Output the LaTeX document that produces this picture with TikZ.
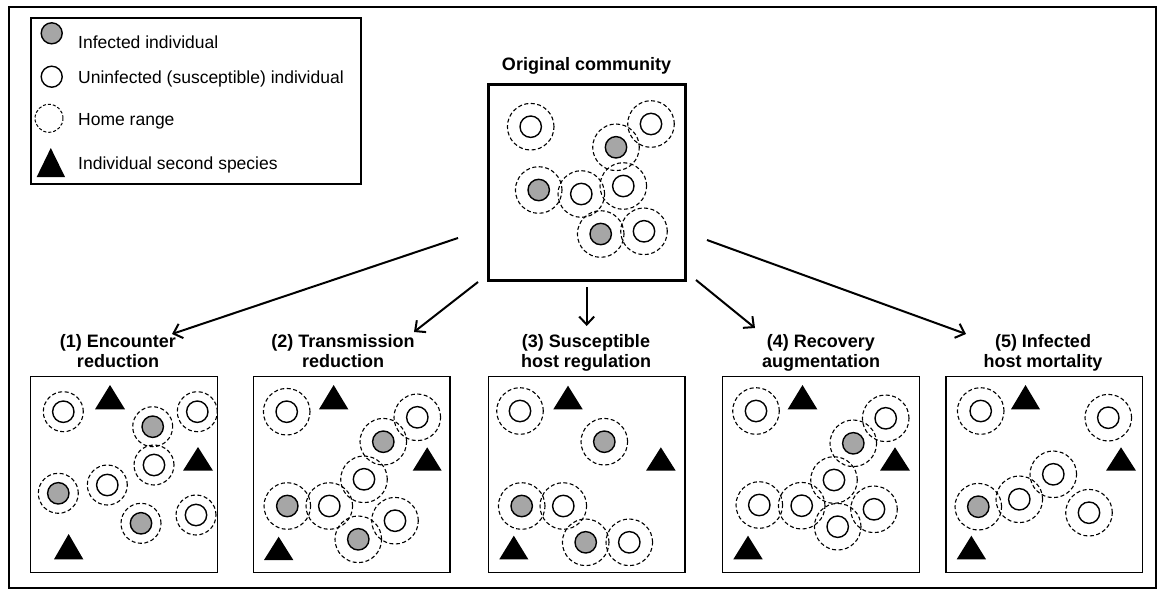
\documentclass[tikz,border=0pt]{standalone}
\usepackage{fontspec}
\setmainfont{Liberation Sans}
\usetikzlibrary{arrows.meta}
\definecolor{infgray}{RGB}{166,166,166}
\begin{document}
\begin{tikzpicture}[x=1pt,y=-1pt,
  frame/.style={draw=black,line width=2pt},
  legbox/.style={draw=black,line width=1.4pt},
  panel/.style={draw=black,line width=1.5pt},
  mainbox/.style={draw=black,line width=3pt},
  ring/.style={draw=black,line width=1.1pt,dash pattern=on 4pt off 2.5pt},
  inf/.style={draw=black,line width=1.4pt,fill=infgray},
  sus/.style={draw=black,line width=1.4pt,fill=white},
  arr/.style={line width=2pt,-{Straight Barb[length=8pt,width=15pt,line width=2pt]}},
  lab/.style={font=\fontsize{18}{20}\selectfont\bfseries,anchor=base,inner sep=0pt},
  legtxt/.style={font=\fontsize{17.5}{20}\selectfont,anchor=base west,inner sep=0pt}
]
\useasboundingbox (0,0) rectangle (1161,592);
\draw[frame] (9,7) rectangle (1156,588);

% legend
\draw[legbox] (31,18) rectangle (361,184);
\draw[inf] (51.7,33.3) circle[radius=10.5pt];
\draw[sus] (51.7,76.7) circle[radius=10.5pt];
\draw[ring,line width=1pt,dash pattern=on 3pt off 2pt] (49,118.3) circle[radius=14pt];
\fill (36.7,177) -- (65,177) -- (50.8,148) -- cycle;
\node[legtxt] (l1) at (78,48) {Infected individual};
\node[legtxt] (l2) at (78,83) {Uninfected (susceptible) individual};
\node[legtxt] (l3) at (78,125) {Home range};
\node[legtxt] (l4) at (78,169) {Individual second species};

% original community
\node[lab] (t0) at (586.5,70) {Original community};
\draw[mainbox] (488.3,84) rectangle (685,280);
\def\hostsO{530.7/126.7/sus, 651/124/sus, 616/147.3/inf, 538.7/190/inf, 581.3/194/sus, 623.3/186/sus, 600.7/234/inf, 644/231.3/sus}
\foreach \x/\y/\t in \hostsO \draw[ring] (\x,\y) circle[radius=23.3pt];
\foreach \x/\y/\t in \hostsO \draw[\t] (\x,\y) circle[radius=10.7pt];

% panel 1
\node[lab] (p1a) at (118,347) {(1) Encounter};
\node[lab] (p1b) at (118,367.5) {reduction};
\draw[panel] (30.7,376.7) rectangle (217.3,572.3);
\def\hostsA{63.3/411.7/sus, 152.7/426.7/inf, 197.3/411.7/sus, 154/465/sus, 107.3/485/sus, 58.3/493.3/inf, 141/523.3/inf, 196/515/sus}
\foreach \x/\y/\t in \hostsA \draw[ring] (\x,\y) circle[radius=20pt];
\foreach \x/\y/\t in \hostsA \draw[\t] (\x,\y) circle[radius=10.7pt];
\foreach \l/\r/\tp/\b in {95/125/385/409.3, 183/213/447/470.7, 54/83.3/534/559.3}
  \fill (\l,\b) -- (\r,\b) -- ({(\l+\r)/2},\tp) -- cycle;

% panel 2
\node[lab] (p2a) at (343,347) {(2) Transmission};
\node[lab] (p2b) at (343,367.5) {reduction};
\draw[panel] (253.3,376.7) rectangle (450,572.3);
\def\hostsB{286.7/411.7/sus, 417.3/417.3/sus, 383.3/441.7/inf, 364/479.3/sus, 287.3/506/inf, 329.3/506/sus, 395/520.7/sus, 358.3/539.3/inf}
\foreach \x/\y/\t in \hostsB \draw[ring] (\x,\y) circle[radius=23.3pt];
\foreach \x/\y/\t in \hostsB \draw[\t] (\x,\y) circle[radius=10.7pt];
\foreach \l/\r/\tp/\b in {319/348.3/385/409.3, 412.7/441.7/447.3/470.7, 264/293.3/536.7/560}
  \fill (\l,\b) -- (\r,\b) -- ({(\l+\r)/2},\tp) -- cycle;

% panel 3
\node[lab] (p3a) at (586,347) {(3) Susceptible};
\node[lab] (p3b) at (586,367.5) {host regulation};
\draw[panel] (488.3,376.7) rectangle (685,572.3);
\def\hostsC{520/411/sus, 604.3/441.7/inf, 521.7/506/inf, 563.3/506/sus, 585.7/542.3/inf, 629.3/542.3/sus}
\foreach \x/\y/\t in \hostsC \draw[ring] (\x,\y) circle[radius=23.3pt];
\foreach \x/\y/\t in \hostsC \draw[\t] (\x,\y) circle[radius=10.7pt];
\foreach \l/\r/\tp/\b in {553.3/582.7/385.7/409.3, 646/675.7/447.3/470.7, 499.3/528.3/535.7/559.3}
  \fill (\l,\b) -- (\r,\b) -- ({(\l+\r)/2},\tp) -- cycle;

% panel 4
\node[lab] (p4a) at (821,347) {(4) Recovery};
\node[lab] (p4b) at (821,367.5) {augmentation};
\draw[panel] (722.7,376.7) rectangle (919.3,572.3);
\def\hostsD{756/411/sus, 885.7/418.3/sus, 853.3/443.3/inf, 834/480/sus, 759.3/505/sus, 801.7/505.7/sus, 874/509.3/sus, 837.7/526.7/sus}
\foreach \x/\y/\t in \hostsD \draw[ring] (\x,\y) circle[radius=23.3pt];
\foreach \x/\y/\t in \hostsD \draw[\t] (\x,\y) circle[radius=10.7pt];
\foreach \l/\r/\tp/\b in {787.7/817.3/385/409.3, 880/910/447.3/470.7, 733.3/762.7/535.7/559.3}
  \fill (\l,\b) -- (\r,\b) -- ({(\l+\r)/2},\tp) -- cycle;

% panel 5
\node[lab] (p5a) at (1043,347) {(5) Infected};
\node[lab] (p5b) at (1043,367.5) {host mortality};
\draw[panel] (946,376.7) rectangle (1142.7,572.3);
\def\hostsE{980.7/411/sus, 1108.3/417.7/sus, 1053.3/474.3/sus, 978.3/506.7/inf, 1019.3/499.3/sus, 1089/512.7/sus}
\foreach \x/\y/\t in \hostsE \draw[ring] (\x,\y) circle[radius=23.3pt];
\foreach \x/\y/\t in \hostsE \draw[\t] (\x,\y) circle[radius=10.7pt];
\foreach \l/\r/\tp/\b in {1011/1040/385/409.3, 1106/1136/447.3/470.7, 956.7/986/535.7/559.3}
  \fill (\l,\b) -- (\r,\b) -- ({(\l+\r)/2},\tp) -- cycle;

% arrows
\coordinate (s1) at (458,238); \coordinate (e1) at (172,334);
\coordinate (s2) at (478,282); \coordinate (e2) at (414,332);
\coordinate (s3) at (586.7,287); \coordinate (e3) at (586.7,326);
\coordinate (s4) at (696,280); \coordinate (e4) at (755,328);
\coordinate (s5) at (707,240); \coordinate (e5) at (966,334);
\foreach \i in {1,...,5} \draw[arr] (s\i) -- (e\i);
\end{tikzpicture}
\end{document}
